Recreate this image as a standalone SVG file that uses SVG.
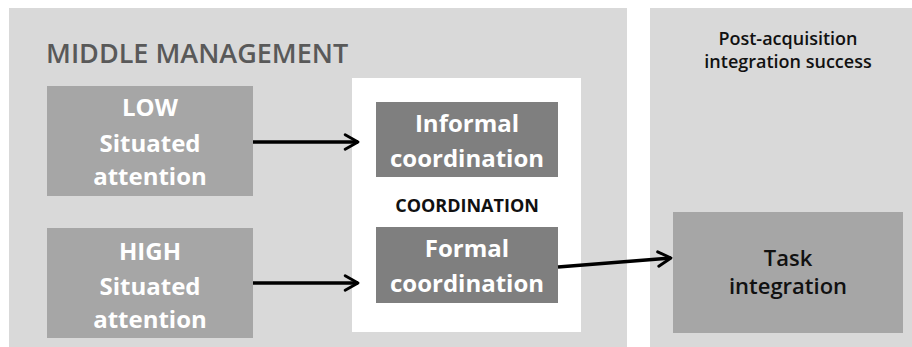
<svg xmlns="http://www.w3.org/2000/svg" width="912" height="347" viewBox="0 0 912 347">
  <defs>
    <style>
      .panel { fill: #d9d9d9; }
      .light { fill: #a6a6a6; }
      .dark { fill: #7f7f7f; }
      .lbl { font-family: "Open Sans", "Liberation Sans", sans-serif; font-weight: 700; fill: #ffffff; text-anchor: middle; font-size: 24px; }
      .head { font-family: "Open Sans", "Liberation Sans", sans-serif; font-weight: 600; fill: #595959; font-size: 27px; }
      .sub { font-family: "Open Sans", "Liberation Sans", sans-serif; font-weight: 600; fill: #111111; text-anchor: middle; font-size: 18px; }
      .caps { font-family: "Open Sans", "Liberation Sans", sans-serif; font-weight: 700; fill: #111111; text-anchor: middle; font-size: 18px; }
      .task { font-family: "Open Sans", "Liberation Sans", sans-serif; font-weight: 600; fill: #111111; text-anchor: middle; font-size: 22px; }
      .edge { stroke: #000000; stroke-width: 3.5; fill: none; }
    </style>
    <marker id="chev" viewBox="0 0 12 12" refX="10" refY="6" markerWidth="5.5" markerHeight="5.5" orient="auto" markerUnits="strokeWidth">
      <path d="M2,1.5 L10,6 L2,10.5" fill="none" stroke="#000000" stroke-width="1.8" stroke-linecap="round" stroke-linejoin="round"/>
    </marker>
  </defs>

  <rect width="912" height="347" fill="#ffffff"/>

  <!-- background panels -->
  <g id="middle-management">
    <rect class="panel" x="9" y="8" width="618" height="339"/>
    <text class="head" x="46" y="63">MIDDLE MANAGEMENT</text>
  </g>
  <g id="integration-success">
    <rect class="panel" x="650" y="8" width="262" height="339"/>
    <text class="sub" x="788" y="45">Post-acquisition</text>
    <text class="sub" x="788" y="68">integration success</text>
  </g>

  <!-- coordination container -->
  <g id="coordination">
    <rect x="352" y="78" width="229" height="254" fill="#ffffff"/>
    <text class="caps" x="467" y="212">COORDINATION</text>
  </g>

  <g id="low-attention">
    <rect class="light" x="47" y="86" width="206" height="110"/>
    <text class="lbl" x="150" y="116">LOW</text>
    <text class="lbl" x="150" y="152">Situated</text>
    <text class="lbl" x="150" y="185">attention</text>
  </g>

  <g id="high-attention">
    <rect class="light" x="47" y="228" width="206" height="110"/>
    <text class="lbl" x="150" y="260">HIGH</text>
    <text class="lbl" x="150" y="295">Situated</text>
    <text class="lbl" x="150" y="328">attention</text>
  </g>

  <g id="informal-coordination">
    <rect class="dark" x="376" y="102" width="182" height="75"/>
    <text class="lbl" x="467" y="132">Informal</text>
    <text class="lbl" x="467" y="167">coordination</text>
  </g>

  <g id="formal-coordination">
    <rect class="dark" x="376" y="227" width="182" height="76"/>
    <text class="lbl" x="467" y="257">Formal</text>
    <text class="lbl" x="467" y="292">coordination</text>
  </g>

  <g id="task-integration">
    <rect class="light" x="673" y="212" width="230" height="121"/>
    <text class="task" x="788" y="266">Task</text>
    <text class="task" x="788" y="294">integration</text>
  </g>

  <!-- connectors -->
  <g id="connectors">
    <line class="edge" x1="253" y1="142" x2="358" y2="142" marker-end="url(#chev)"/>
    <line class="edge" x1="253" y1="283" x2="358" y2="283" marker-end="url(#chev)"/>
    <line class="edge" x1="558" y1="267" x2="671" y2="258" marker-end="url(#chev)"/>
  </g>
</svg>
